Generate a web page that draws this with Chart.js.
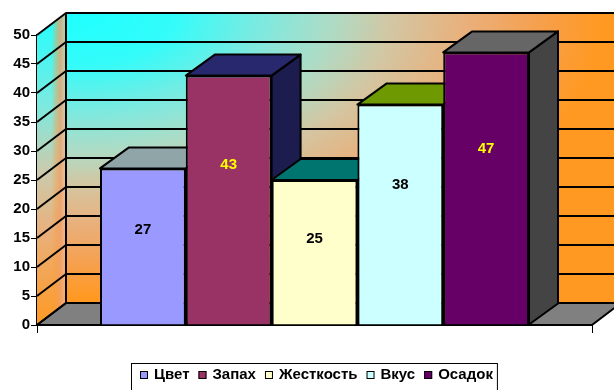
<!DOCTYPE html>
<html>
<head>
<meta charset="utf-8">
<script src="https://cdn.jsdelivr.net/npm/chart.js@4/dist/chart.umd.min.js"></script>
<style>
  html, body { margin: 0; padding: 0; background: #fff; }
  #wrap { width: 614px; height: 390px; }
</style>
</head>
<body>
<div id="wrap"><canvas id="grafico"></canvas></div>
<script>
// dados do grafico
var categorias = [''];
var series = ['Цвет', 'Запах', 'Жесткость', 'Вкус', 'Осадок'];
var valores = [27, 43, 25, 38, 47];
var yMin = 0, yMax = 50, yPasso = 5;

// cores (frente, topo, lado, rotulo)
var corFrente = ['#9999FF', '#993366', '#FFFFCC', '#CCFFFF', '#660066'];
var corTopo = ['#8FA5A8', '#28286E', '#00756F', '#6E9900', '#666666'];
var corLado = ['#6E8285', '#1C1C4E', '#00504B', '#4E6C00', '#444444'];
var corRotulo = ['#000000', '#FFFF00', '#000000', '#000000', '#FFFF00'];

var DX = 29, DY = -22;     // profundidade das paredes
var BDX = 29, BDY = -21;   // profundidade das barras
var fonte = 'bold 15px Arial, "Liberation Sans", sans-serif';
var fonteLegenda = 'bold 15px Arial, "Liberation Sans", sans-serif';

function poligono(ctx, pts, fill, stroke, lw){
  ctx.beginPath();
  ctx.moveTo(pts[0][0], pts[0][1]);
  for (var i = 1; i < pts.length; i++) ctx.lineTo(pts[i][0], pts[i][1]);
  ctx.closePath();
  if (fill){ ctx.fillStyle = fill; ctx.fill(); }
  if (stroke){ ctx.strokeStyle = stroke; ctx.lineWidth = lw || 2; ctx.lineJoin = 'round'; ctx.stroke(); }
}

var paredes3d = {
  id: 'paredes3d',
  beforeDatasetsDraw: function(chart){
    var ctx = chart.ctx, a = chart.chartArea, sy = chart.scales.y;
    var x0 = a.left, x1 = a.right, yt = a.top, yb = a.bottom;
    var W = chart.width + 20;
    ctx.save();

    // parede do fundo
    var fundo = [[x0 + DX, yt + DY], [W, yt + DY], [W, yb + DY], [x0 + DX, yb + DY]];
    ctx.save();
    ctx.beginPath();
    ctx.moveTo(fundo[0][0], fundo[0][1]);
    for (var i = 1; i < 4; i++) ctx.lineTo(fundo[i][0], fundo[i][1]);
    ctx.closePath();
    ctx.clip();
    var rx = 520, ry = 285;
    ctx.translate(x0 + DX + 15, yt + DY);
    ctx.scale(rx / ry, 1);
    var g = ctx.createRadialGradient(0, 0, 0, 0, 0, ry);
    g.addColorStop(0, '#1FFFFF');
    g.addColorStop(0.18, '#33FCFA');
    g.addColorStop(0.35, '#7EE9DF');
    g.addColorStop(0.48, '#ADDCC6');
    g.addColorStop(0.6, '#D3C6A2');
    g.addColorStop(0.74, '#E9B07C');
    g.addColorStop(0.88, '#F6A04E');
    g.addColorStop(1, '#FF9922');
    ctx.fillStyle = g;
    ctx.fillRect(-200, -50, 2000, 2000);
    ctx.restore();

    // parede lateral
    var lado = [[x0, yt], [x0 + DX, yt + DY], [x0 + DX, yb + DY], [x0, yb]];
    var gv = ctx.createLinearGradient(0, yt + DY, 0, yb);
    gv.addColorStop(0, '#1FFFFF');
    gv.addColorStop(0.3, '#7EE9DF');
    gv.addColorStop(0.5, '#C9CCAE');
    gv.addColorStop(0.7, '#E9B07C');
    gv.addColorStop(1, '#FF9922');
    poligono(ctx, lado, gv);
    var gh = ctx.createLinearGradient(x0, 0, x0 + DX, 0);
    gh.addColorStop(0, 'rgba(255,153,34,0)');
    gh.addColorStop(0.5, 'rgba(255,153,34,0)');
    gh.addColorStop(0.82, 'rgba(238,160,110,0.85)');
    gh.addColorStop(1, 'rgba(255,190,140,0.5)');
    poligono(ctx, lado, gh);

    // chao
    poligono(ctx, [[x0, yb], [x1, yb], [x1 + DX, yb + DY], [x0 + DX, yb + DY]], '#808080', '#000', 2);

    // linhas de grade
    ctx.strokeStyle = '#000';
    ctx.lineWidth = 2;
    for (var v = yMin; v <= yMax; v += yPasso){
      var py = sy.getPixelForValue(v);
      ctx.beginPath();
      ctx.moveTo(x0, py);
      ctx.lineTo(x0 + DX, py + DY);
      ctx.lineTo(W, py + DY);
      ctx.stroke();
    }
    ctx.beginPath();
    ctx.moveTo(x0 + DX, yt + DY);
    ctx.lineTo(x0 + DX, yb + DY);
    ctx.stroke();

    // eixo x
    ctx.beginPath();
    ctx.moveTo(x0, yb);
    ctx.lineTo(x1, yb);
    ctx.stroke();
    ctx.lineWidth = 1;
    ctx.beginPath();
    ctx.moveTo(x0 + 0.5, yb);
    ctx.lineTo(x0 + 0.5, yb + 8);
    ctx.moveTo(x1 + 0.5, yb);
    ctx.lineTo(x1 + 0.5, yb + 8);
    ctx.stroke();

    // lados e topos das barras, da esquerda pra direita
    chart.data.datasets.forEach(function(ds, i){
      var el = chart.getDatasetMeta(i).data[0];
      var L = el.x - el.width / 2, R = el.x + el.width / 2, T = el.y, B = el.base;
      poligono(ctx, [[R, T], [R + BDX, T + BDY], [R + BDX, B + BDY], [R, B]], corLado[i], '#000', 2);
      poligono(ctx, [[L, T], [R, T], [R + BDX, T + BDY], [L + BDX, T + BDY]], corTopo[i], '#000', 2);
    });
    ctx.restore();
  },
  afterDatasetsDraw: function(chart){
    var ctx = chart.ctx, sy = chart.scales.y;
    ctx.save();
    ctx.font = fonte;
    ctx.textAlign = 'center';
    ctx.textBaseline = 'middle';
    chart.data.datasets.forEach(function(ds, i){
      var el = chart.getDatasetMeta(i).data[0];
      var v = ds.data[0];
      ctx.fillStyle = corRotulo[i];
      ctx.fillText(String(v), el.x, sy.getPixelForValue(v * 0.705 - 2.7));
    });
    ctx.restore();
  },
  afterDraw: function(chart){
    // legenda com caixa
    var ctx = chart.ctx;
    ctx.save();
    ctx.font = fonteLegenda;
    var box = 8, gap1 = 6, gap2 = 9;
    var total = 0;
    series.forEach(function(s, i){
      total += box + gap1 + ctx.measureText(s).width;
      if (i < series.length - 1) total += gap2;
    });
    var cx = 316, cy = 375;
    var x = Math.round(cx - total / 2);
    ctx.strokeStyle = '#000';
    ctx.lineWidth = 1;
    ctx.strokeRect(x - 8.5, 363.5, total + 13, 40);
    ctx.textBaseline = 'middle';
    ctx.textAlign = 'left';
    series.forEach(function(s, i){
      ctx.fillStyle = corFrente[i];
      ctx.fillRect(x, cy - 4, box, box);
      ctx.strokeRect(x + 0.5, cy - 3.5, box - 1, box - 1);
      ctx.fillStyle = '#000';
      ctx.fillText(s, x + box + gap1, cy);
      x += box + gap1 + ctx.measureText(s).width + gap2;
    });
    ctx.restore();
  }
};

var datasets = [];
for (let i = 0; i < series.length; i++){
  datasets.push({
    label: series[i],
    data: [valores[i]],
    backgroundColor: corFrente[i],
    borderColor: '#000',
    borderWidth: 2
  });
}

var ctx = document.getElementById('grafico').getContext('2d');
window.myBar = new Chart(ctx, {
  type: 'bar',
  data: { labels: categorias, datasets: datasets },
  options: {
    responsive: true,
    maintainAspectRatio: false,
    animation: false,
    layout: { padding: { left: 0, right: 22, top: 35, bottom: 65 } },
    datasets: { bar: { categoryPercentage: 0.773, barPercentage: 1 } },
    plugins: {
      legend: { display: false },
      tooltip: { enabled: false },
      title: { display: false }
    },
    scales: {
      x: { display: false },
      y: {
        min: yMin,
        max: yMax,
        afterFit: function(scale){ scale.width = 37; },
        ticks: { stepSize: yPasso, color: '#000', font: { family: 'Arial, "Liberation Sans", sans-serif', size: 15, weight: 'bold' }, padding: 1 },
        grid: { drawOnChartArea: false, drawTicks: true, tickLength: 6, color: '#000', lineWidth: 1 },
        border: { display: true, color: '#000', width: 2 }
      }
    }
  },
  plugins: [paredes3d]
});
</script>
</body>
</html>
